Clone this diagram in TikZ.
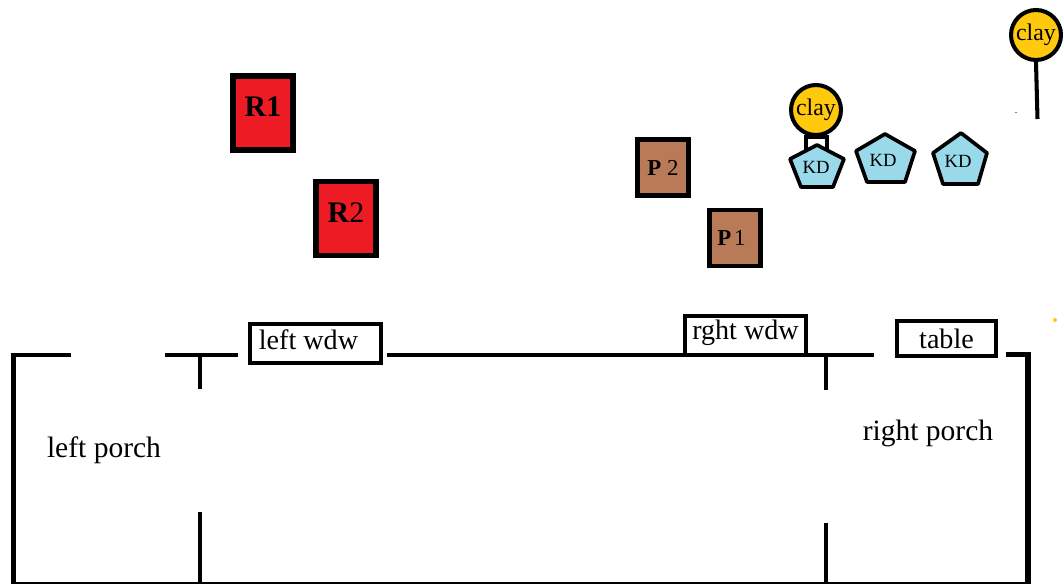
\documentclass[tikz,border=0pt]{standalone}
\usepackage{fontspec}
\setmainfont{Liberation Serif}
\usetikzlibrary{positioning,calc}

\begin{document}
\begin{tikzpicture}[
  x=0.02cm, y=-0.02cm,
  wall/.style={line width=2.3pt, line cap=butt},
  thickwall/.style={line width=3pt},
  floorline/.style={line width=1.2pt},
  txt/.style={font=\fontsize{16.8}{18}\selectfont, inner sep=0pt},
  wdwbox/.style={rectangle, draw, line width=2.3pt, inner sep=0pt, font=\fontsize{16}{18}\selectfont},
  rbox/.style={rectangle, draw, line width=3.3pt, fill=redbox, minimum width=1.2cm, minimum height=1.48cm, inner sep=0pt, text depth=7pt, font=\fontsize{17}{18}\selectfont},
  pbox/.style={rectangle, draw, line width=2.7pt, fill=brownbox, minimum width=1.02cm, minimum height=1.12cm, inner sep=0pt, font=\fontsize{13}{15}\selectfont},
  clay/.style={circle, draw, line width=2.3pt, fill=orangeclay, minimum size=1cm, inner sep=0pt, font=\fontsize{13.6}{15}\selectfont},
  kdshape/.style={draw, line width=2.1pt, fill=bluekd, line join=round},
  kdtxt/.style={font=\fontsize{10.6}{12}\selectfont, inner sep=0pt}
]
\definecolor{redbox}{HTML}{ED1C24}
\definecolor{brownbox}{HTML}{B97A57}
\definecolor{orangeclay}{HTML}{FFC90E}
\definecolor{bluekd}{HTML}{99D9EA}

\useasboundingbox (0,0) rectangle (1063,584);

% outline of the house
\draw[wall] (71,355) -- (11,355);
\draw[thickwall] (13.5,353) -- (13.5,584);
\draw[wall] (165,355) -- (238,355);
\draw[wall] (200,355) -- (200,389);
\draw[wall] (200,512) -- (200,583);
\draw[wall] (387,355) -- (874,355);
\draw[wall] (826,355) -- (826,390);
\draw[wall] (826,523) -- (826,583);
\draw[thickwall] (1006,354.5) -- (1028,354.5) -- (1028,584);
\draw[floorline] (11,583) -- (1030,583);

% windows and table
\node[wdwbox, minimum width=2.62cm, minimum height=0.78cm, fill=white, text depth=4.5pt] (leftwdw) at (315.5,343.5) {left wdw\kern 8pt};
\node[wdwbox, minimum width=2.42cm, minimum height=0.78cm, fill=white, text depth=6.5pt] (rghtwdw) at (745.5,335.5) {rght wdw};
\node[wdwbox, minimum width=1.98cm, minimum height=0.70cm, fill=white] (tablebox) at (946.5,338.5) {table};

\node[txt] (leftporch) at (104,450) {left porch};
\node[txt] (rightporch) at (928,433) {right porch};

% red and brown units
\node[rbox] (r1) at (263,113) {\textbf{R1}};
\node[rbox] (r2) at (346,218.5) {\textbf{R}2};
\node[pbox] (p2) at (663,167.5) {\textbf{P} 2};
\node[pbox] (p1) at (735,238) {\textbf{P}\kern1.5pt 1\kern4pt};

% clay on the first KD
\draw[line width=2.3pt] (806,137) rectangle (827,153);
\draw[kdshape] (817,145) -- (844,159) -- (833,187) -- (801,187) -- (790,159) -- cycle;
\node[kdtxt] (kd1) at (816,167) {KD};
\node[clay] (clay1) at (816,110) {clay};

% other KD
\draw[kdshape] (885,134) -- (915,151) -- (905,182) -- (867,182) -- (856,151) -- cycle;
\node[kdtxt] (kd2) at (883,160) {KD};
\draw[kdshape] (961,133) -- (987,153) -- (978,184) -- (943,184) -- (933,153) -- cycle;
\node[kdtxt] (kd3) at (958,161) {KD};

% clay on a stem
\node[clay] (clay2) at (1036,35) {clay};
\coordinate (stemend) at (1037.5,119);
\draw[line width=2.3pt] (clay2.south) -- (stemend);

% stray specks
\fill[orangeclay] (1055,320) circle (2);
\fill[black!60] (1016,112.5) circle (0.8);

\end{tikzpicture}
\end{document}
